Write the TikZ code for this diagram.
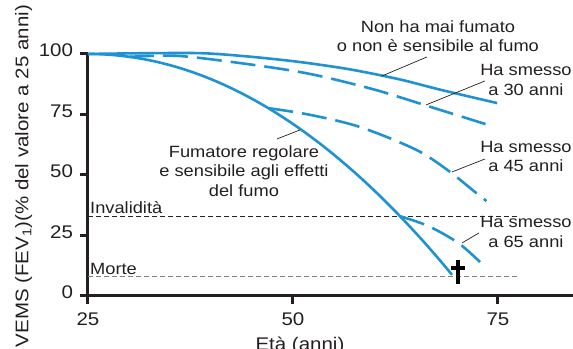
\documentclass[tikz,border=0pt]{standalone}
\usepackage{fontspec}
\setmainfont[FakeStretch=1.12]{Liberation Sans}
\definecolor{curveblue}{RGB}{30,146,210}
\definecolor{axisblack}{RGB}{35,31,32}
\tikzset{%
  axis/.style    = {draw=axisblack, line width=3pt},%
  curve/.style   = {draw=curveblue, line width=2.6pt},%
  quit/.style    = {curve, dash pattern=on 25pt off 9pt},%
  pointer/.style = {draw=axisblack, line width=0.7pt},%
  legend/.style  = {align=center, inner sep=0pt, anchor=north,%
                    font=\fontsize{16.3}{19.6}\selectfont},%
  ticklab/.style = {inner sep=0pt, font=\fontsize{18.3}{22}\selectfont},%
  limit/.style   = {line width=0.9pt, dash pattern=on 5pt off 3pt},%
  cross/.style   = {draw=black, line width=3.3pt}%
}

\begin{document}
\begin{tikzpicture}[x=8.2pt,y=2.42pt,
	every node/.style = {text=axisblack}]
	\useasboundingbox (14.27,-21.9) rectangle (84.15,122.3);
	% axes and ticks
	\draw[axis] (25,100) -- (25,0) -- (84.2,0);
	\draw[axis] (25,0) -- (25,-3.3);
	\draw[axis] (50,0) -- (50,-3.3);
	\draw[axis] (75,0) -- (75,-3.3);
	\draw[axis] (25,0) -- (24.02,0);
	\draw[axis] (25,25) -- (24.02,25);
	\draw[axis] (25,50) -- (24.02,50);
	\draw[axis] (25,75) -- (24.02,75);
	\draw[axis] (25,100) -- (24.02,100);
	\node[ticklab, anchor=mid east] (y0)   at (23.2,0)   {0};
	\node[ticklab, anchor=mid east] (y25)  at (23.2,25)  {25};
	\node[ticklab, anchor=mid east] (y50)  at (23.2,50)  {50};
	\node[ticklab, anchor=mid east] (y75)  at (23.2,75)  {75};
	\node[ticklab, anchor=mid east] (y100) at (23.2,100) {100};
	\node[ticklab, anchor=base] (x25) at (25,-12.4) {25};
	\node[ticklab, anchor=base] (x50) at (50,-12.4) {50};
	\node[ticklab, anchor=base] (x75) at (75,-12.4) {75};
	\node[ticklab, anchor=base] (xlab) at (50.85,-22.4) {Età (anni)};
	\node[ticklab, anchor=base, rotate=90] (ylab) at (17.74,49.5)
		{VEMS (FEV\textsubscript{1})(\% del valore a 25 anni)};
	% invalidity and death levels
	\draw[limit, draw=black!85] (25,33) -- (77.3,33);
	\draw[limit, draw=black!50] (25,8) -- (77.4,8);
	\node[legend, anchor=base west] (inval) at (25.25,34.1) {Invalidità};
	\node[legend, anchor=base west] (morte) at (25.25,8.7) {Morte};
	% curves
	\draw[curve] plot[smooth] coordinates {(25,100) (32,100.3) (39,100.3)
		(45,98.8) (51,96.6) (57,93.6) (63,89.5) (68,85.2) (74.9,79.7)};
	\draw[quit] plot[smooth] coordinates {(30,98.8) (36,99.2) (44.5,95.8)
		(52,91.8) (59.8,85.4) (66.7,78.2) (73.5,71.0)};
	\draw[quit] plot[smooth] coordinates {(47,77.6) (50.9,75.6) (54.9,72.8)
		(58,70.0) (61.8,65.2) (65.7,59.2) (69.1,51.4) (72.4,42.4) (73.6,39.2)};
	\draw[quit] plot[smooth] coordinates {(63.1,32.9) (66.5,28.9) (70.2,21.8)
		(73.2,12.8)};
	\draw[curve] plot[domain=25:69.4, samples=60] (\x,{100-0.0463*(\x-25)^2});
	% labels
	\node[legend] (mai) at (67.68,113.9) {Non ha mai fumato\\o non è sensibile al fumo};
	\node[legend] (smesso30) at (78.41,95.8) {Ha smesso\\a 30 anni};
	\node[legend] (smesso45) at (78.41,64.1) {Ha smesso\\a 45 anni};
	\node[legend] (smesso65) at (78.41,33.0) {Ha smesso\\a 65 anni};
	\node[legend] (fumatore) at (44.02,62.35) {Fumatore regolare\\e sensibile agli effetti\\del fumo};
	% pointers
	\coordinate (maiA) at (66.34,98.76);    \coordinate (maiB) at (60.85,90.9);
	\coordinate (s30A) at (73.41,88.84);    \coordinate (s30B) at (66.22,78.93);
	\coordinate (s45A) at (73.41,56.6);     \coordinate (s45B) at (69.39,51.24);
	\coordinate (s65A) at (72.68,26.03);    \coordinate (s65B) at (70.61,21.9);
	\coordinate (fumA) at (48.05,64.88);    \coordinate (fumB) at (50.85,68.6);
	\draw[pointer] (maiA) -- (maiB);
	\draw[pointer] (s30A) -- (s30B);
	\draw[pointer] (s45A) -- (s45B);
	\draw[pointer] (s65A) -- (s65B);
	\draw[pointer] (fumA) -- (fumB);
	% death cross
	\coordinate (croce) at (70.12,11.6);
	\draw[cross] ([yshift=8pt]croce) -- ([yshift=-16pt]croce);
	\draw[cross] ([xshift=-7pt]croce) -- ([xshift=7pt]croce);
\end{tikzpicture}
\end{document}
